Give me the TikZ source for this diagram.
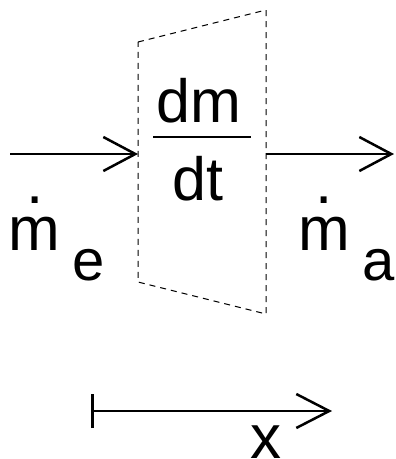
\documentclass[tikz,border=0pt]{standalone}
\usepackage{fontspec}
\setmainfont{Liberation Sans}
\usetikzlibrary{arrows.meta}
\newcommand{\mdotted}{\ooalign{m\cr\hidewidth\raisebox{47pt}{.}\hidewidth\cr}}
\begin{document}
\begin{tikzpicture}[x=1pt,y=-1pt,
  every node/.style={inner sep=0pt, outer sep=0pt},
  bigtxt/.style={font=\fontsize{62}{62}\selectfont},
  subtxt/.style={font=\fontsize{58}{58}\selectfont},
  fractxt/.style={font=\fontsize{61}{61}\selectfont},
  flow/.style={line width=2.5pt, -{Straight Barb[length=32pt,width=34pt,line width=2.5pt]}},
  axis/.style={line width=2.5pt, {Bar[width=34pt,line width=2.5pt]}-{Straight Barb[length=33pt,width=34pt,line width=2.5pt]}},
  cv/.style={line width=1pt, dash pattern=on 6pt off 5pt}]
\useasboundingbox (0,0) rectangle (396,459);
% control volume
\coordinate (tl) at (138,42);
\coordinate (tr) at (266,10);
\coordinate (br) at (266,314);
\coordinate (bl) at (138,282);
\draw[cv] (tl) -- (tr) -- (br) -- (bl) -- cycle;
% flow arrows
\coordinate (inS) at (10,154);
\coordinate (inE) at (138,154);
\coordinate (outS) at (266,154);
\coordinate (outE) at (394,154);
\draw[flow] (inS) -- (inE);
\draw[flow] (outS) -- (outE);
% fraction
\node[fractxt, anchor=base] (dm) at (199,122) {dm};
\coordinate (fl) at (153,137);
\coordinate (fr) at (251,137);
\draw[line width=2.5pt] (fl) -- (fr);
\node[fractxt, anchor=base] (dt) at (198,200) {dt};
% mass flows
\node[bigtxt, anchor=base west] (me) at (9,250) {\mdotted};
\node[subtxt, anchor=base west] (e) at (73,280) {e};
\node[bigtxt, anchor=base west] (ma) at (298,250) {\mdotted};
\node[subtxt, anchor=base west] (a) at (362,280) {a};
% axis
\coordinate (xS) at (91,411);
\coordinate (xE) at (332,411);
\draw[axis] (xS) -- (xE);
\node[bigtxt, anchor=base] (x) at (266,458) {x};
\end{tikzpicture}
\end{document}
